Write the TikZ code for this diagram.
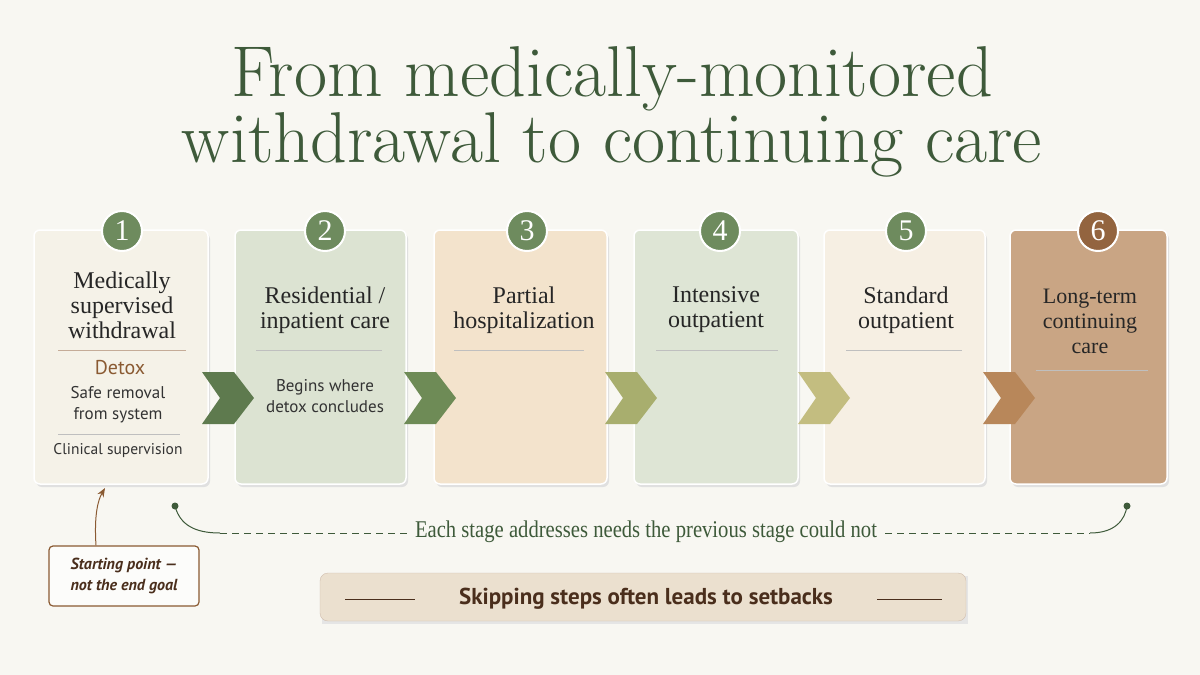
\documentclass[tikz,border=0pt]{standalone}
\usepackage{fontspec}
\newfontfamily\sans{PT Sans}
\newfontfamily\ser{Liberation Serif}
\usetikzlibrary{arrows.meta}
\definecolor{bg}{HTML}{F8F7F2}
\definecolor{tgreen}{HTML}{3E5A3A}
\definecolor{cgreen}{HTML}{6E8B5E}
\definecolor{cbrown}{HTML}{93643F}
\definecolor{dbrown}{HTML}{4A2E1C}
\definecolor{ab}{HTML}{8A5A32}
\begin{document}
\begin{tikzpicture}[x=1pt,y=-1pt,
 card/.style={draw=white,line width=1.5pt,rounded corners=6pt},
 num/.style={circle,draw=white,line width=2pt,minimum size=40pt,inner sep=0pt,text=white,font=\ser\fontsize{30}{30}\selectfont},
 ttl/.style={align=center,text=black!85,font=\ser\fontsize{24}{25}\selectfont},
 body/.style={align=center,text=black!80,font=\sans\fontsize{17}{21}\selectfont},
 sep/.style={draw=black!25,line width=0.6pt}]
\useasboundingbox (0,0) rectangle (1200,675);
\fill[bg] (0,0) rectangle (1200,675);
\node[text=tgreen,align=center,font=\fontsize{72}{64}\selectfont] (title) at (612,112) {From medically-monitored\\withdrawal to continuing care};
% cards
\foreach \a/\b/\c/\n in {34/208/F5F2E8/c1,235/406/DCE3D2/c2,434/607/F3E3CC/c3,634/798/DEE5D5/c4,824/985/F6EFE3/c5,1010/1167/C9A584/c6}{
 \definecolor{cc}{HTML}{\c}
 \fill[black!12,rounded corners=6pt] (\a+2,233) rectangle (\b+2,487);
 \draw[card,fill=cc] (\a,230) rectangle (\b,484);
 \coordinate (\n) at ({(\a+\b)/2},230);}
% chevrons
\foreach \x/\c in {202/5E7A4E,404/6E8B56,605/A8AE6E,798/C3BD80,983/B8875A}{
 \definecolor{cc}{HTML}{\c}
 \fill[cc] (\x,372) -- (\x+32,372) -- (\x+52,398) -- (\x+32,424) -- (\x,424) -- (\x+18,398) -- cycle;}
\foreach \x/\k/\c in {122/1/cgreen,325/2/cgreen,527/3/cgreen,720/4/cgreen,906/5/cgreen,1098/6/cbrown}
 \node[num,fill=\c] (n\k) at (\x,231) {\k};
% card 1
\node[ttl] (t1) at (122,305) {Medically\\supervised\\withdrawal};
\draw[sep,draw=ab!50] (58,350) -- (186,350);
\node[text=ab,font=\sans\fontsize{20}{20}\selectfont] (d1) at (120,368) {Detox};
\node[body] (b1) at (118,405) {Safe removal\\from system};
\draw[sep] (58,434) -- (180,434);
\node[body,font=\sans\fontsize{15.5}{18}\selectfont] (e1) at (118,451) {Clinical supervision};
% card 2
\node[ttl] (t2) at (325,310) {Residential /\\inpatient care};
\draw[sep] (256,350) -- (382,350);
\node[body] (b2) at (325,396) {Begins where\\detox concludes};
% cards 3-5
\node[ttl] (t3) at (524,310) {Partial\\hospitalization};
\draw[sep] (454,350) -- (584,350);
\node[ttl] (t4) at (716,310) {Intensive\\outpatient};
\draw[sep] (656,350) -- (778,350);
\node[ttl] (t5) at (906,310) {Standard\\outpatient};
\draw[sep] (846,350) -- (962,350);
\node[ttl,font=\ser\fontsize{22}{25}\selectfont] (t6) at (1090,321) {Long-term\\continuing\\care};
\draw[sep] (1036,370) -- (1148,370);
% dashed note
\node[text=tgreen,inner sep=8pt,font=\ser\fontsize{24}{24}\selectfont] (note) at (646,532) {\addfontfeature{FakeStretch=0.86}Each stage addresses needs the previous stage could not};
\coordinate (L) at (175,506); \coordinate (R) at (1127,506);
\fill[tgreen] (L) circle (3.5pt) (R) circle (3.5pt);
\draw[tgreen,line width=1pt] (L) .. controls (180,525) and (195,533) .. (220,533);
\draw[tgreen,line width=1pt,dash pattern=on 7pt off 5pt] (220,533) -- (note.west |- 0,533);
\draw[tgreen,line width=1pt,dash pattern=on 7pt off 5pt] (note.east |- 0,533) -- (1090,533);
\draw[tgreen,line width=1pt] (1090,533) .. controls (1115,533) and (1125,520) .. (R);
% annotation
\node[draw=ab,line width=1.2pt,rounded corners=4pt,fill=white!60!bg,align=center,minimum width=150pt,minimum height=60pt,text=dbrown,font=\sans\itshape\bfseries\fontsize{16}{21}\selectfont] (ann) at (124,576) {Starting point —\\not the end goal};
\coordinate (cb) at (105,488);
\draw[ab,line width=1pt,-{Stealth[length=9pt,width=7pt]}] (ann.north -| 96,0) .. controls (94,515) and (98,500) .. (cb);
% banner
\fill[black!10] (322,576) rectangle (968,624);
\draw[draw=ab!40,fill={rgb,255:red,235;green,224;blue,207},rounded corners=8pt] (320,573) rectangle (966,621);
\node[text=dbrown,font=\sans\bfseries\fontsize{23}{23}\selectfont] (ban) at (646,599) {Skipping steps often leads to setbacks};
\draw[dbrown,line width=0.8pt] (345,599) -- (415,599) (877,599) -- (942,599);
\end{tikzpicture}
\end{document}
